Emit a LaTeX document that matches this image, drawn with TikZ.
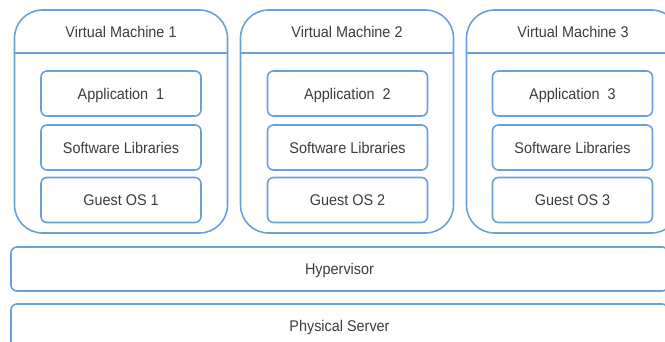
\documentclass[tikz,border=0pt]{standalone}
\usepackage{fontspec}
\setmainfont[FakeStretch=0.93]{Liberation Sans}
\definecolor{boxblue}{RGB}{104,160,218}
\definecolor{textgray}{RGB}{60,60,60}
\begin{document}
\begin{tikzpicture}[x=1pt,y=-1pt,
        every node/.style={font=\fontsize{15.5}{18}\selectfont, text=textgray, text depth=0pt},
        vmbox/.style={draw=boxblue, line width=1.6pt, rounded corners=28pt, minimum width=213pt, minimum height=223pt},
        vmtitle/.style={minimum width=213pt, minimum height=43pt, inner sep=0pt},
        layer/.style={draw=boxblue, line width=1.6pt, rounded corners=6pt, minimum width=160pt, minimum height=45pt},
        base/.style={draw=boxblue, line width=1.6pt, rounded corners=6pt, minimum width=657pt, minimum height=44pt},
        divider/.style={draw=boxblue, line width=1.6pt}]
        \useasboundingbox (0,0) rectangle (665,342);
        \clip (0,0) rectangle (665,342);
        % virtual machines
        \node [vmbox] (vm1) at (121,121.5) {};
        \node [vmbox] (vm2) at (347,121.5) {};
        \node [vmbox] (vm3) at (573,121.5) {};
        \node [vmtitle] (vm1title) at (121,31.5) {Virtual Machine 1};
        \node [vmtitle] (vm2title) at (347,31.5) {Virtual Machine 2};
        \node [vmtitle] (vm3title) at (573,31.5) {Virtual Machine 3};
        \draw [divider] (vm1.west |- vm1title.south) -- (vm1.east |- vm1title.south);
        \draw [divider] (vm2.west |- vm2title.south) -- (vm2.east |- vm2title.south);
        \draw [divider] (vm3.west |- vm3title.south) -- (vm3.east |- vm3title.south);
        % layers inside each machine
        \node [layer] (app1) at (121,93.5) {Application\ \ 1};
        \node [layer] (lib1) at (121,147.5) {Software Libraries};
        \node [layer] (os1) at (121,200) {Guest OS 1};
        \node [layer] (app2) at (347.5,93.5) {Application\ \ 2};
        \node [layer] (lib2) at (347.5,147.5) {Software Libraries};
        \node [layer] (os2) at (347.5,200) {Guest OS 2};
        \node [layer] (app3) at (572.5,93.5) {Application\ \ 3};
        \node [layer] (lib3) at (572.5,147.5) {Software Libraries};
        \node [layer] (os3) at (572.5,200) {Guest OS 3};
        % shared layers
        \node [base] (hyp) at (339.5,269) {Hypervisor};
        \node [base] (server) at (339.5,326) {Physical Server};
    \end{tikzpicture}
\end{document}
